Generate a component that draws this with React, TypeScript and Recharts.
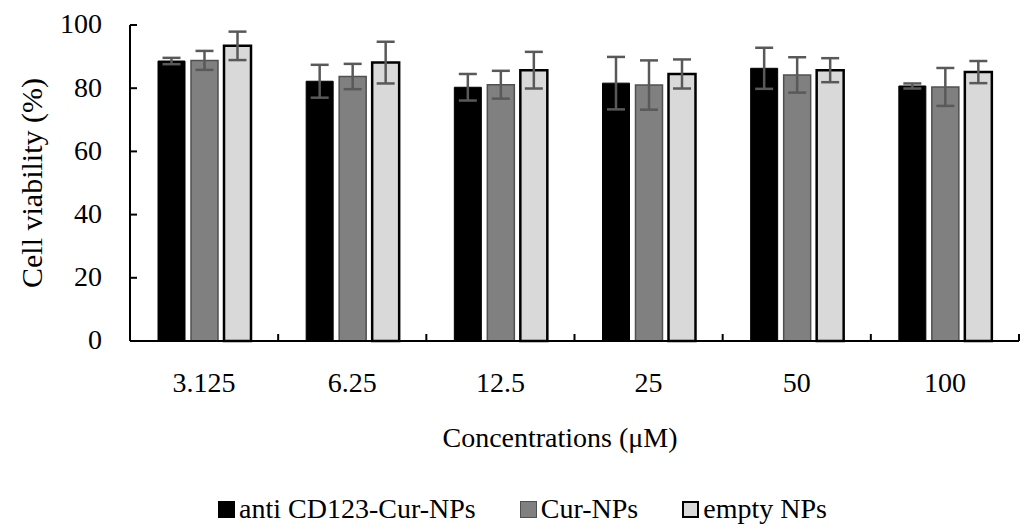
import {
  BarChart,
  Bar,
  XAxis,
  YAxis,
  ErrorBar,
  Label,
  Legend,
} from "recharts";

const concentrations = ["3.125", "6.25", "12.5", "25", "50", "100"];

const antiCd123 = [88.6, 82.2, 80.3, 81.6, 86.3, 80.7];
const antiCd123Err = [1.0, 5.2, 4.2, 8.3, 6.5, 0.8];

const curNps = [88.8, 83.7, 81.1, 81.0, 84.2, 80.4];
const curNpsErr = [3.0, 4.0, 4.4, 7.8, 5.6, 6.0];

const emptyNps = [93.4, 88.1, 85.7, 84.5, 85.7, 85.1];
const emptyNpsErr = [4.5, 6.6, 5.8, 4.6, 3.8, 3.5];

const yTicks = [0, 20, 40, 60, 80, 100];

const data = concentrations.map((c, i) => ({
  conc: c,
  anti: antiCd123[i],
  antiErr: antiCd123Err[i],
  cur: curNps[i],
  curErr: curNpsErr[i],
  empty: emptyNps[i],
  emptyErr: emptyNpsErr[i],
}));

const FONT = "'Liberation Serif', 'Times New Roman', serif";

const series = [
  { key: "anti", err: "antiErr", name: "anti CD123-Cur-NPs", fill: "#000000", stroke: "#000000", sw: 1 },
  { key: "cur", err: "curErr", name: "Cur-NPs", fill: "#808080", stroke: "#505050", sw: 1.5 },
  { key: "empty", err: "emptyErr", name: "empty NPs", fill: "#d9d9d9", stroke: "#000000", sw: 2.5 },
];

const XTick = (props: any) => {
  const { x, y, payload, index, visibleTicksCount } = props;
  const half = payload?.offset ?? 74;
  return (
    <g>
      <line x1={x - half} y1={y} x2={x - half} y2={y - 7} stroke="#000" strokeWidth={2} />
      {index === visibleTicksCount - 1 && (
        <line x1={x + half} y1={y} x2={x + half} y2={y - 7} stroke="#000" strokeWidth={2} />
      )}
      <text x={x} y={y + 51} textAnchor="middle" fontFamily={FONT} fontSize={28} fill="#000">
        {payload.value}
      </text>
    </g>
  );
};

const YTick = (props: any) => {
  const { x, y, payload } = props;
  return (
    <g>
      <line x1={x} y1={y} x2={x + 7} y2={y} stroke="#000" strokeWidth={2} />
      <text x={x - 28} y={y} dy="0.3em" textAnchor="end" fontFamily={FONT} fontSize={28} fill="#000">
        {payload.value}
      </text>
    </g>
  );
};

const LegendContent = () => (
  <div
    style={{
      display: "flex",
      justifyContent: "center",
      alignItems: "center",
      gap: 44,
      fontFamily: FONT,
      fontSize: 28,
      lineHeight: "34px",
      color: "#000",
    }}
  >
    {series.map((s) => (
      <div key={s.key} style={{ display: "flex", alignItems: "center", gap: 4 }}>
        <span
          style={{
            display: "inline-block",
            boxSizing: "border-box",
            width: 17,
            height: 17,
            background: s.fill,
            border: `${s.sw}px solid ${s.stroke}`,
          }}
        />
        <span>{s.name}</span>
      </div>
    ))}
  </div>
);

export default function App() {
  return (
    <div
      style={{
        position: "absolute",
        left: 0,
        top: 0,
        width: 1025,
        height: 529,
        background: "#fff",
        fontFamily: FONT,
      }}
    >
      <BarChart
        width={1025}
        height={529}
        data={data}
        margin={{ top: 25, right: 6, bottom: 68, left: 0 }}
        barSize={27}
        barGap={6}
      >
        <XAxis
          dataKey="conc"
          height={120}
          tick={<XTick />}
          tickLine={false}
          tickSize={0}
          tickMargin={0}
          axisLine={{ stroke: "#000", strokeWidth: 2 }}
          interval={0}
        >
          <Label
            content={() => (
              <text x={560} y={437} dy="0.35em" textAnchor="middle" fontFamily={FONT} fontSize={28} fill="#000">
                Concentrations (μM)
              </text>
            )}
          />
        </XAxis>
        <YAxis
          width={130}
          domain={[0, 100]}
          ticks={yTicks}
          tick={<YTick />}
          tickLine={false}
          tickSize={0}
          tickMargin={0}
          axisLine={{ stroke: "#000", strokeWidth: 2 }}
        >
          <Label
            content={(p: any) => {
              const vb = p.viewBox || { y: 25, height: 316 };
              const cy = vb.y + vb.height / 2;
              return (
                <text
                  x={31}
                  y={cy}
                  dy="0.35em"
                  transform={`rotate(-90, 31, ${cy})`}
                  textAnchor="middle"
                  fontFamily={FONT}
                  fontSize={30}
                  fill="#000"
                >
                  Cell viability (%)
                </text>
              );
            }}
          />
        </YAxis>
        <Legend
          layout="horizontal"
          verticalAlign="middle"
          content={<LegendContent />}
          wrapperStyle={{ top: 492, left: 10, width: 1025 }}
        />
        {series.map((s) => (
          <Bar
            key={s.key}
            dataKey={s.key}
            name={s.name}
            fill={s.fill}
            stroke={s.stroke}
            strokeWidth={s.sw}
            isAnimationActive={false}
          >
            <ErrorBar dataKey={s.err} width={9} stroke="#595959" strokeWidth={2.5} direction="y" />
          </Bar>
        ))}
      </BarChart>
    </div>
  );
}
